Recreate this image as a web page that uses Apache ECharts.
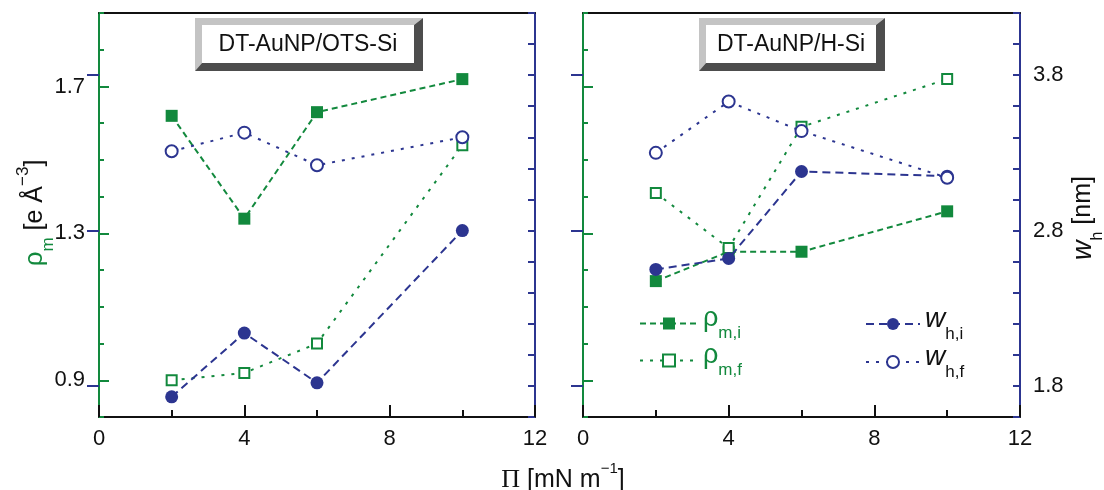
<!DOCTYPE html>
<html>
<head>
<meta charset="utf-8">
<script src="https://cdn.jsdelivr.net/npm/echarts@6/dist/echarts.min.js"></script>
<style>
  html, body { margin: 0; padding: 0; background: #fff; }
  #chart { width: 1104px; height: 490px; }
</style>
</head>
<body>
<div id="chart"></div>
<script>
// ---------------- data ----------------
const pressure = [2, 4, 6, 10];                 // Π [mN m^-1]
// DT-AuNP/OTS-Si (left panel)
const otsRhoI = [1.62, 1.34, 1.63, 1.72];       // ρm,i [e Å^-3]
const otsRhoF = [0.90, 0.92, 1.00, 1.54];       // ρm,f
const otsWI   = [1.73, 2.14, 1.82, 2.80];       // wh,i [nm]
const otsWF   = [3.31, 3.43, 3.22, 3.40];       // wh,f
// DT-AuNP/H-Si (right panel)
const hsiRhoI = [1.17, 1.25, 1.25, 1.36];
const hsiRhoF = [1.41, 1.26, 1.59, 1.72];
const hsiWI   = [2.55, 2.62, 3.18, 3.15];
const hsiWF   = [3.30, 3.63, 3.44, 3.14];
// tick labels
const xTickLabels = [0, 4, 8, 12];
const rhoTickLabels = [0.9, 1.3, 1.7];
const wTickLabels = [1.8, 2.8, 3.8];
const panelTitles = ['DT-AuNP/OTS-Si', 'DT-AuNP/H-Si'];
const seriesNames = ['ρm,i', 'ρm,f', 'wh,i', 'wh,f'];

// ---------------- style ----------------
const GREEN = '#12893d';
const BLUE = '#2c3590';
const BLACK = '#111';
const FONT = 'Liberation Sans, Arial, sans-serif';

function pairs(ys) { return pressure.map((x, i) => [x, ys[i]]); }

function xAxes(grid) {
  return [
    {
      gridIndex: grid, type: 'value', position: 'bottom', min: 0, max: 12, interval: 4,
      axisLine: { show: true, lineStyle: { color: BLACK, width: 2 } },
      axisTick: { show: true, inside: true, length: 12, lineStyle: { color: BLACK, width: 2 } },
      minorTick: { show: true, splitNumber: 2, length: 7, lineStyle: { color: BLACK, width: 2 } },
      axisLabel: { show: true, fontSize: 22, color: BLACK, fontFamily: FONT, margin: 11,
        customValues: xTickLabels },
      splitLine: { show: false }, minorSplitLine: { show: false }
    },
    {
      gridIndex: grid, type: 'value', position: 'top', min: 0, max: 12,
      axisLine: { show: true, onZero: false, lineStyle: { color: BLACK, width: 2 } },
      axisTick: { show: false }, axisLabel: { show: false }, splitLine: { show: false }
    }
  ];
}

function yAxes(grid, showRhoLabels, showWLabels) {
  return [
    { // rho minor ticks
      gridIndex: grid, type: 'value', position: 'left', min: 0.8, max: 1.9, interval: 0.1,
      axisLine: { show: true, onZero: false, lineStyle: { color: GREEN, width: 2 } },
      axisTick: { show: true, inside: true, length: 5, lineStyle: { color: GREEN, width: 2 } },
      axisLabel: { show: false }, splitLine: { show: false }
    },
    { // rho major ticks + labels
      gridIndex: grid, type: 'value', position: 'left', min: 0.8, max: 1.9,
      axisLine: { show: false },
      axisTick: { show: true, inside: true, length: 10, customValues: rhoTickLabels,
        lineStyle: { color: GREEN, width: 2 } },
      axisLabel: { show: showRhoLabels, customValues: rhoTickLabels, fontSize: 22, color: BLACK,
        fontFamily: FONT, margin: 14, formatter: v => v.toFixed(1) },
      splitLine: { show: false }
    },
    { // w minor ticks
      gridIndex: grid, type: 'value', position: 'right', min: 1.6, max: 4.2, interval: 0.2,
      axisLine: { show: true, onZero: false, lineStyle: { color: BLUE, width: 2 } },
      axisTick: { show: true, inside: true, length: 7, lineStyle: { color: BLUE, width: 2 } },
      axisLabel: { show: false }, splitLine: { show: false }
    },
    { // w major ticks + labels
      gridIndex: grid, type: 'value', position: 'right', min: 1.6, max: 4.2,
      axisLine: { show: false },
      axisTick: { show: true, inside: true, length: 12, customValues: wTickLabels,
        lineStyle: { color: BLUE, width: 2 } },
      axisLabel: { show: showWLabels, customValues: wTickLabels, fontSize: 22, color: BLACK,
        fontFamily: FONT, margin: 13, formatter: v => v.toFixed(1) },
      splitLine: { show: false }
    }
  ];
}

function panelSeries(grid, rhoI, rhoF, wI, wF) {
  const xi = grid * 2;
  const yi = grid * 4;
  return [
    { name: seriesNames[0], type: 'line', xAxisIndex: xi, yAxisIndex: yi, data: pairs(rhoI),
      symbol: 'rect', symbolSize: 12, itemStyle: { color: GREEN },
      lineStyle: { color: GREEN, width: 2, type: [6, 4] }, z: 2 },
    { name: seriesNames[1], type: 'line', xAxisIndex: xi, yAxisIndex: yi, data: pairs(rhoF),
      symbol: 'rect', symbolSize: 10, itemStyle: { color: '#fff', borderColor: GREEN, borderWidth: 2 },
      lineStyle: { color: GREEN, width: 2, type: [3, 7] }, z: 3 },
    { name: seriesNames[2], type: 'line', xAxisIndex: xi, yAxisIndex: yi + 2, data: pairs(wI),
      symbol: 'circle', symbolSize: 13, itemStyle: { color: BLUE },
      lineStyle: { color: BLUE, width: 2, type: [8, 5] }, z: 4 },
    { name: seriesNames[3], type: 'line', xAxisIndex: xi, yAxisIndex: yi + 2, data: pairs(wF),
      symbol: 'circle', symbolSize: 12, itemStyle: { color: '#fff', borderColor: BLUE, borderWidth: 2 },
      lineStyle: { color: BLUE, width: 2, type: [3, 7] }, z: 5 }
  ];
}

function titleBox(x0, y0, x1, y1, b, text) {
  const xi0 = x0 + b, yi0 = y0 + b, xi1 = x1 - b - 2, yi1 = y1 - b - 1;
  return {
    type: 'group', silent: true, children: [
      { type: 'polygon', shape: { points: [[x0, y0], [x1, y0], [xi1, yi0], [xi0, yi0], [xi0, yi1], [x0, y1]] },
        style: { fill: '#c4c4c4' } },
      { type: 'polygon', shape: { points: [[x1, y0], [x1, y1], [x0, y1], [xi0, yi1], [xi1, yi1], [xi1, yi0]] },
        style: { fill: '#4d4d4d' } },
      { type: 'rect', shape: { x: xi0, y: yi0, width: xi1 - xi0, height: yi1 - yi0 }, style: { fill: '#fff' } },
      { type: 'text', x: (xi0 + xi1) / 2, y: (yi0 + yi1) / 2 + 1,
        style: { text: text, fontSize: 23, fontFamily: FONT, fill: BLACK, align: 'center', verticalAlign: 'middle' } }
    ]
  };
}

const legendText = {
  'ρm,i': '{r|ρ}{rs|m,i}',
  'ρm,f': '{r|ρ}{rs|m,f}',
  'wh,i': '{w|w}{ws|h,i}',
  'wh,f': '{w|w}{ws|h,f}'
};
const legendRich = {
  r: { fontSize: 27, color: GREEN, fontFamily: FONT, padding: [0, 0, 10, 0] },
  rs: { fontSize: 17, color: GREEN, fontFamily: FONT, verticalAlign: 'bottom' },
  w: { fontSize: 28, color: BLACK, fontFamily: FONT, fontStyle: 'italic', padding: [0, 0, 10, 0] },
  ws: { fontSize: 17, color: BLACK, fontFamily: FONT, verticalAlign: 'bottom' }
};

const option = {
  animation: false,
  backgroundColor: '#fff',
  grid: [
    { left: 99, right: 569, top: 13, bottom: 73, containLabel: false },
    { left: 583, right: 84, top: 13, bottom: 73, containLabel: false }
  ],
  xAxis: [...xAxes(0), ...xAxes(1)],
  yAxis: [...yAxes(0, true, false), ...yAxes(1, false, true)],
  legend: [
    { data: [seriesNames[0], seriesNames[1]], orient: 'vertical', left: 634, top: 300,
      itemWidth: 58, itemHeight: 15, itemGap: 0, selectedMode: false,
      formatter: n => legendText[n], textStyle: { rich: legendRich, padding: [0, 0, 0, 0] } },
    { data: [seriesNames[2], seriesNames[3]], orient: 'vertical', left: 860, top: 300,
      itemWidth: 54, itemHeight: 15, itemGap: 0, selectedMode: false,
      formatter: n => legendText[n], textStyle: { rich: legendRich } }
  ],
  series: [
    ...panelSeries(0, otsRhoI, otsRhoF, otsWI, otsWF),
    ...panelSeries(1, hsiRhoI, hsiRhoF, hsiWI, hsiWF)
  ],
  graphic: [
    titleBox(195, 18, 423, 71, 7, panelTitles[0]),
    titleBox(699, 18, 885, 71, 7, panelTitles[1]),
    { type: 'text', x: 36, y: 213, rotation: Math.PI / 2, silent: true,
      style: { text: '{r|ρ}{rs|m}{b| [e Å}{sup|−3}{b|]}', align: 'center', verticalAlign: 'middle',
        rich: {
          r: { fontSize: 26, fill: GREEN, fontFamily: FONT, padding: [7, 0, 9, 0] },
          rs: { fontSize: 17, fill: GREEN, fontFamily: FONT, verticalAlign: 'bottom' },
          b: { fontSize: 25, fill: BLACK, fontFamily: FONT, padding: [7, 0, 9, 0] },
          sup: { fontSize: 17, fill: BLACK, fontFamily: FONT, verticalAlign: 'top' }
        } } },
    { type: 'text', x: 1088, y: 218, rotation: Math.PI / 2, silent: true,
      style: { text: '{w|w}{ws|h}{b| [nm]}', align: 'center', verticalAlign: 'middle',
        rich: {
          w: { fontSize: 27, fill: BLACK, fontFamily: FONT, fontStyle: 'italic', padding: [0, 0, 9, 0] },
          ws: { fontSize: 16, fill: BLACK, fontFamily: FONT, verticalAlign: 'bottom' },
          b: { fontSize: 25, fill: BLACK, fontFamily: FONT, padding: [0, 0, 9, 0] }
        } } },
    { type: 'text', x: 563, y: 477, silent: true,
      style: { text: '{p|Π}{b| [mN m}{sup|−1}{b|]}', align: 'center', verticalAlign: 'middle',
        rich: {
          p: { fontSize: 26, fill: BLACK, fontFamily: 'Liberation Serif, serif', padding: [6, 0, 0, 0] },
          b: { fontSize: 25, fill: BLACK, fontFamily: FONT, padding: [6, 0, 0, 0] },
          sup: { fontSize: 15, fill: BLACK, fontFamily: FONT, verticalAlign: 'top' }
        } } }
  ]
};

const chart = echarts.init(document.getElementById('chart'), null, { renderer: 'canvas' });
chart.setOption(option);
</script>
</body>
</html>
